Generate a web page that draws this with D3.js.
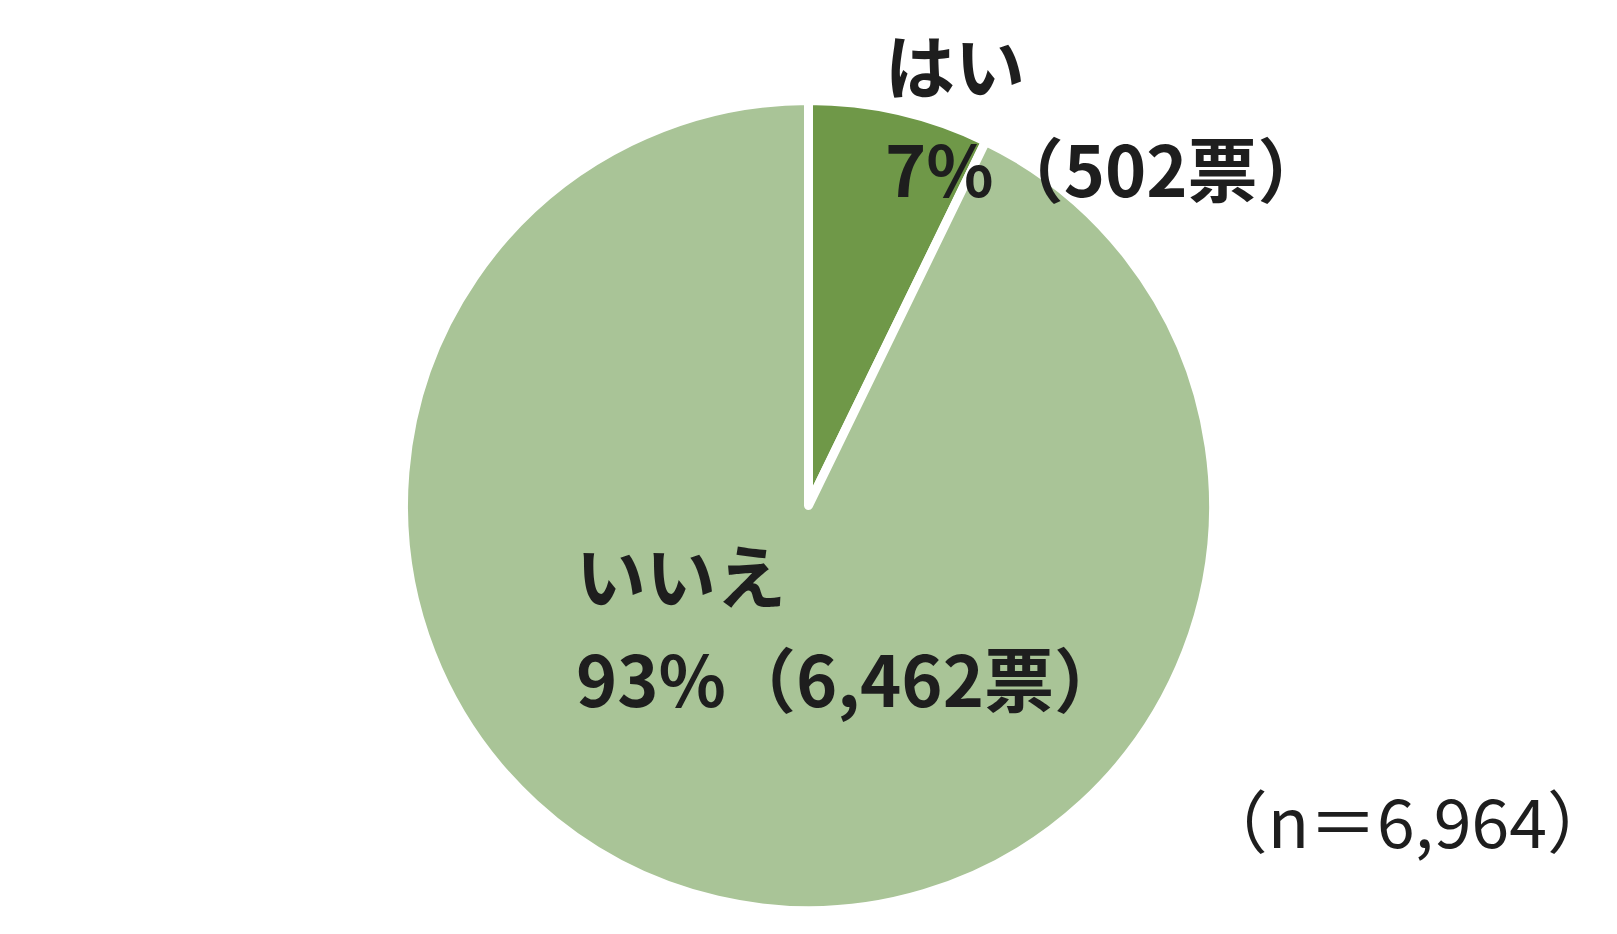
<!DOCTYPE html>
<html><head><meta charset="utf-8">
<script src="https://cdn.jsdelivr.net/npm/d3@7"></script>
<style>html,body{margin:0;padding:0;background:#fff;}svg{display:block;}</style>
</head><body>
<svg id="c" width="1617" height="934"></svg>
<script>
const categories = ["はい", "いいえ"];
const votes = [502, 6462];
const percents = ["7%", "93%"];
const voteLabels = ["（502票）", "（6,462票）"];
const totalLabel = "（n＝6,964）";
const colors = ["#6f9848", "#a9c497"];

const svg = d3.select("#c");
const cx = 808.5, cy = 505.5, r = 405;
const data = categories.map((c, i) => ({cat: c, v: votes[i], pct: percents[i], vl: voteLabels[i]}));
const pie = d3.pie().value(d => d.v).sort(null);
const arc = d3.arc().innerRadius(0).outerRadius(r);
const g = svg.append("g").attr("transform", `translate(${cx},${cy})`);
g.selectAll("path").data(pie(data)).join("path")
  .attr("d", arc)
  .attr("fill", (d, i) => colors[i])
  .attr("stroke", "#fff")
  .attr("stroke-width", 9)
  .attr("stroke-linejoin", "round");

const font = "'Noto Sans CJK JP', 'Noto Sans', sans-serif";
const labelPos = [
  {x: 885, y1: 94, y2: 197},
  {x: 576, y1: 604, y2: 707}
];
data.forEach((d, i) => {
  const p = labelPos[i];
  const t = svg.append("text")
    .attr("font-family", font).attr("font-weight", 700).attr("font-size", 70)
    .attr("fill", "#1e1e1e");
  t.append("tspan").attr("x", p.x).attr("y", p.y1).text(d.cat);
  t.append("tspan").attr("x", p.x).attr("y", p.y2).text(d.pct + d.vl);
});
svg.append("text")
  .attr("font-family", font).attr("font-weight", 400).attr("font-size", 68)
  .attr("fill", "#1e1e1e")
  .attr("text-anchor", "end")
  .attr("x", 1615).attr("y", 848)
  .text(totalLabel);
</script>
</body></html>
